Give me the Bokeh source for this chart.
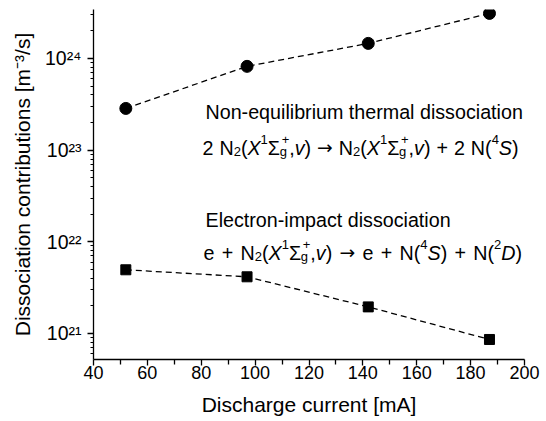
import numpy as np
from bokeh.plotting import figure
from bokeh.models import Label, Range1d, FixedTicker, CustomJSTickFormatter
from bokeh.embed import file_html
from bokeh.resources import INLINE

# ---- data ----
current_mA = [52, 97, 142, 187]
thermal_diss = [2.85e23, 8.2e23, 1.46e24, 3.1e24]
electron_diss = [4.95e21, 4.15e21, 1.95e21, 8.6e20]
x_tick_values = [40, 60, 80, 100, 120, 140, 160, 180, 200]
y_tick_exponents = [21, 22, 23, 24]

FONT = "Liberation Sans"
X_MIN, X_MAX = 40, 200
LOG_MIN, LOG_MAX = 20.716, 24.534

# frame in page pixels (reference)
FL, FR, FT, FB = 93, 524, 9, 359

W, H = 546, 421
p = figure(width=W, height=H, output_backend="svg", toolbar_location=None,
           y_axis_type="log",
           x_range=Range1d(X_MIN, X_MAX), y_range=Range1d(10 ** LOG_MIN, 10 ** LOG_MAX),
           min_border_left=FL, min_border_right=W - FR,
           min_border_top=FT, min_border_bottom=H - FB)
p.title.visible = False
p.outline_line_color = None
p.xgrid.visible = False
p.ygrid.visible = False
p.background_fill_color = "white"
p.border_fill_color = "white"

# x axis
xa = p.xaxis[0]
xa.ticker = FixedTicker(ticks=x_tick_values,
                        minor_ticks=[v + 10 for v in x_tick_values[:-1]])
xa.axis_line_width = 1.3
xa.major_tick_line_width = 1.3
xa.minor_tick_line_width = 1.3
xa.major_tick_in = 0
xa.major_tick_out = 6
xa.minor_tick_in = 0
xa.minor_tick_out = 5
xa.major_label_text_font = FONT
xa.major_label_text_font_size = "18px"
xa.major_label_text_color = "black"
xa.major_label_standoff = 0
xa.axis_label = "Discharge current [mA]"
xa.axis_label_text_font = FONT
xa.axis_label_text_font_size = "21px"
xa.axis_label_text_font_style = "normal"
xa.axis_label_text_color = "black"
xa.axis_label_standoff = 11

# y axis
ya = p.yaxis[0]
ya.ticker = FixedTicker(ticks=[10.0 ** e for e in y_tick_exponents],
                        minor_ticks=[m * 10.0 ** e for e in range(20, 25) for m in range(2, 10)])
ya.formatter = CustomJSTickFormatter(code="""
const sup = {'0':'\u2070','1':'\u00b9','2':'\u00b2','3':'\u00b3','4':'\u2074','5':'\u2075',
             '6':'\u2076','7':'\u2077','8':'\u2078','9':'\u2079','-':'\u207b'};
const e = Math.round(Math.log10(tick));
return '10' + String(e).split('').map(c => sup[c]).join('');
""")
ya.axis_line_width = 1.3
ya.major_tick_line_width = 1.3
ya.minor_tick_line_width = 1.0
ya.major_tick_in = 0
ya.major_tick_out = 6
ya.minor_tick_in = 0
ya.minor_tick_out = 3
ya.major_label_text_font = FONT
ya.major_label_text_font_size = "19.5px"
ya.major_label_text_color = "black"
ya.major_label_standoff = 6
ya.axis_label = "Dissociation contributions [m\u207b\u00b3/s]"
ya.axis_label_text_font = FONT
ya.axis_label_text_font_size = "21px"
ya.axis_label_text_font_style = "normal"
ya.axis_label_text_color = "black"
ya.axis_label_standoff = 8

# ---- series ----
p.line(current_mA, thermal_diss, line_color="black", line_width=1.3, line_dash="6 4")
p.line(current_mA, electron_diss, line_color="black", line_width=1.3, line_dash="6 4")
p.scatter(current_mA, thermal_diss, marker="circle", size=12, color="black")
p.scatter(current_mA, electron_diss, marker="square", size=10, color="black")

# ---- text helpers (page pixel -> data) ----
def sx2x(sx):
    return X_MIN + (sx - FL) * (X_MAX - X_MIN) / (FR - FL)

def sy2y(sy):
    return 10 ** (LOG_MAX - (sy - FT) * (LOG_MAX - LOG_MIN) / (FB - FT))

ADV = {' ': .278, '2': .556, '1': .556, '3': .556, '4': .556, 'N': .722, '(': .333, ')': .333,
       'X': .667, 'Σ': .6, 'g': .556, '+': .584, ',': .278, 'v': .5, 'S': .667,
       'e': .556, 'D': .722, '-': .333, '/': .278, '[': .278, ']': .278, 'm': .833}

def tw(text, size, gap=0.0):
    return sum(ADV.get(c, .556) * size + (gap if c == ' ' else 0) for c in text)

def put(sx, sy, text, size, italic=False, font=FONT, gap=0.0):
    lead = len(text) - len(text.lstrip(" "))
    sx += lead * (ADV[' '] * size + gap)
    text = text.strip(" ")
    if not text:
        return
    if gap and " " in text:
        # place words separately so spaces can be widened
        parts = text.split(" ")
        for i, w in enumerate(parts):
            put(sx, sy, w, size, italic, font)
            sx += tw(w, size) + ADV[' '] * size + gap
        return
    p.add_layout(Label(x=sx2x(sx), y=sy2y(sy), text=text, text_font=font,
                       text_font_size=f"{size}px",
                       text_font_style="italic" if italic else "normal",
                       text_baseline="alphabetic", text_align="left",
                       text_color="black"))

BIG, SMALL = 19.7, 13

def rich(sx, sy, pieces, size=BIG, small=SMALL, gap=0.0):
    for t, kind in pieces:
        if kind == "n":
            put(sx, sy, t, size, gap=gap); sx += tw(t, size, gap)
        elif kind == "i":
            put(sx, sy, t, size, italic=True); sx += tw(t, size)
        elif kind == "arrow":
            put(sx, sy, "\u2192", size * 0.95, font="DejaVu Sans"); sx += 0.84 * size * 0.95
        elif kind == "sub":
            put(sx, sy + 4, t, small); sx += tw(t, small)
        elif kind == "sup":
            put(sx, sy - 8, t, small); sx += tw(t, small)
        elif kind == "subsup":
            sb, sp = t
            put(sx, sy + 4, sb, small)
            put(sx + 2, sy - 8, sp, small)
            sx += max(tw(sb, small), tw(sp, small) + 2)

N2_STATE = [("N", "n"), ("2", "sub"), ("(", "n"), ("X", "i"), ("1", "sup"), ("Σ", "n"),
            (("g", "+"), "subsup"), (",", "n"), ("v", "i"), (")", "n")]

put(205, 111, "Non-equilibrium thermal dissociation", BIG)
rich(202, 147, [("2 ", "n")] + N2_STATE + [(" ", "n"), ("", "arrow"), (" ", "n")] + N2_STATE +
     [(" + 2 N(", "n"), ("4", "sup"), ("S", "i"), (")", "n")], gap=0.5)

put(205, 219, "Electron-impact dissociation", BIG)
rich(203, 252, [("e + ", "n")] + N2_STATE + [(" ", "n"), ("", "arrow"), (" e + N(", "n"),
                                             ("4", "sup"), ("S", "i"), (") + N(", "n"),
                                             ("2", "sup"), ("D", "i"), (")", "n")], gap=1.8)

open("out.html", "w").write(file_html(p, INLINE))
